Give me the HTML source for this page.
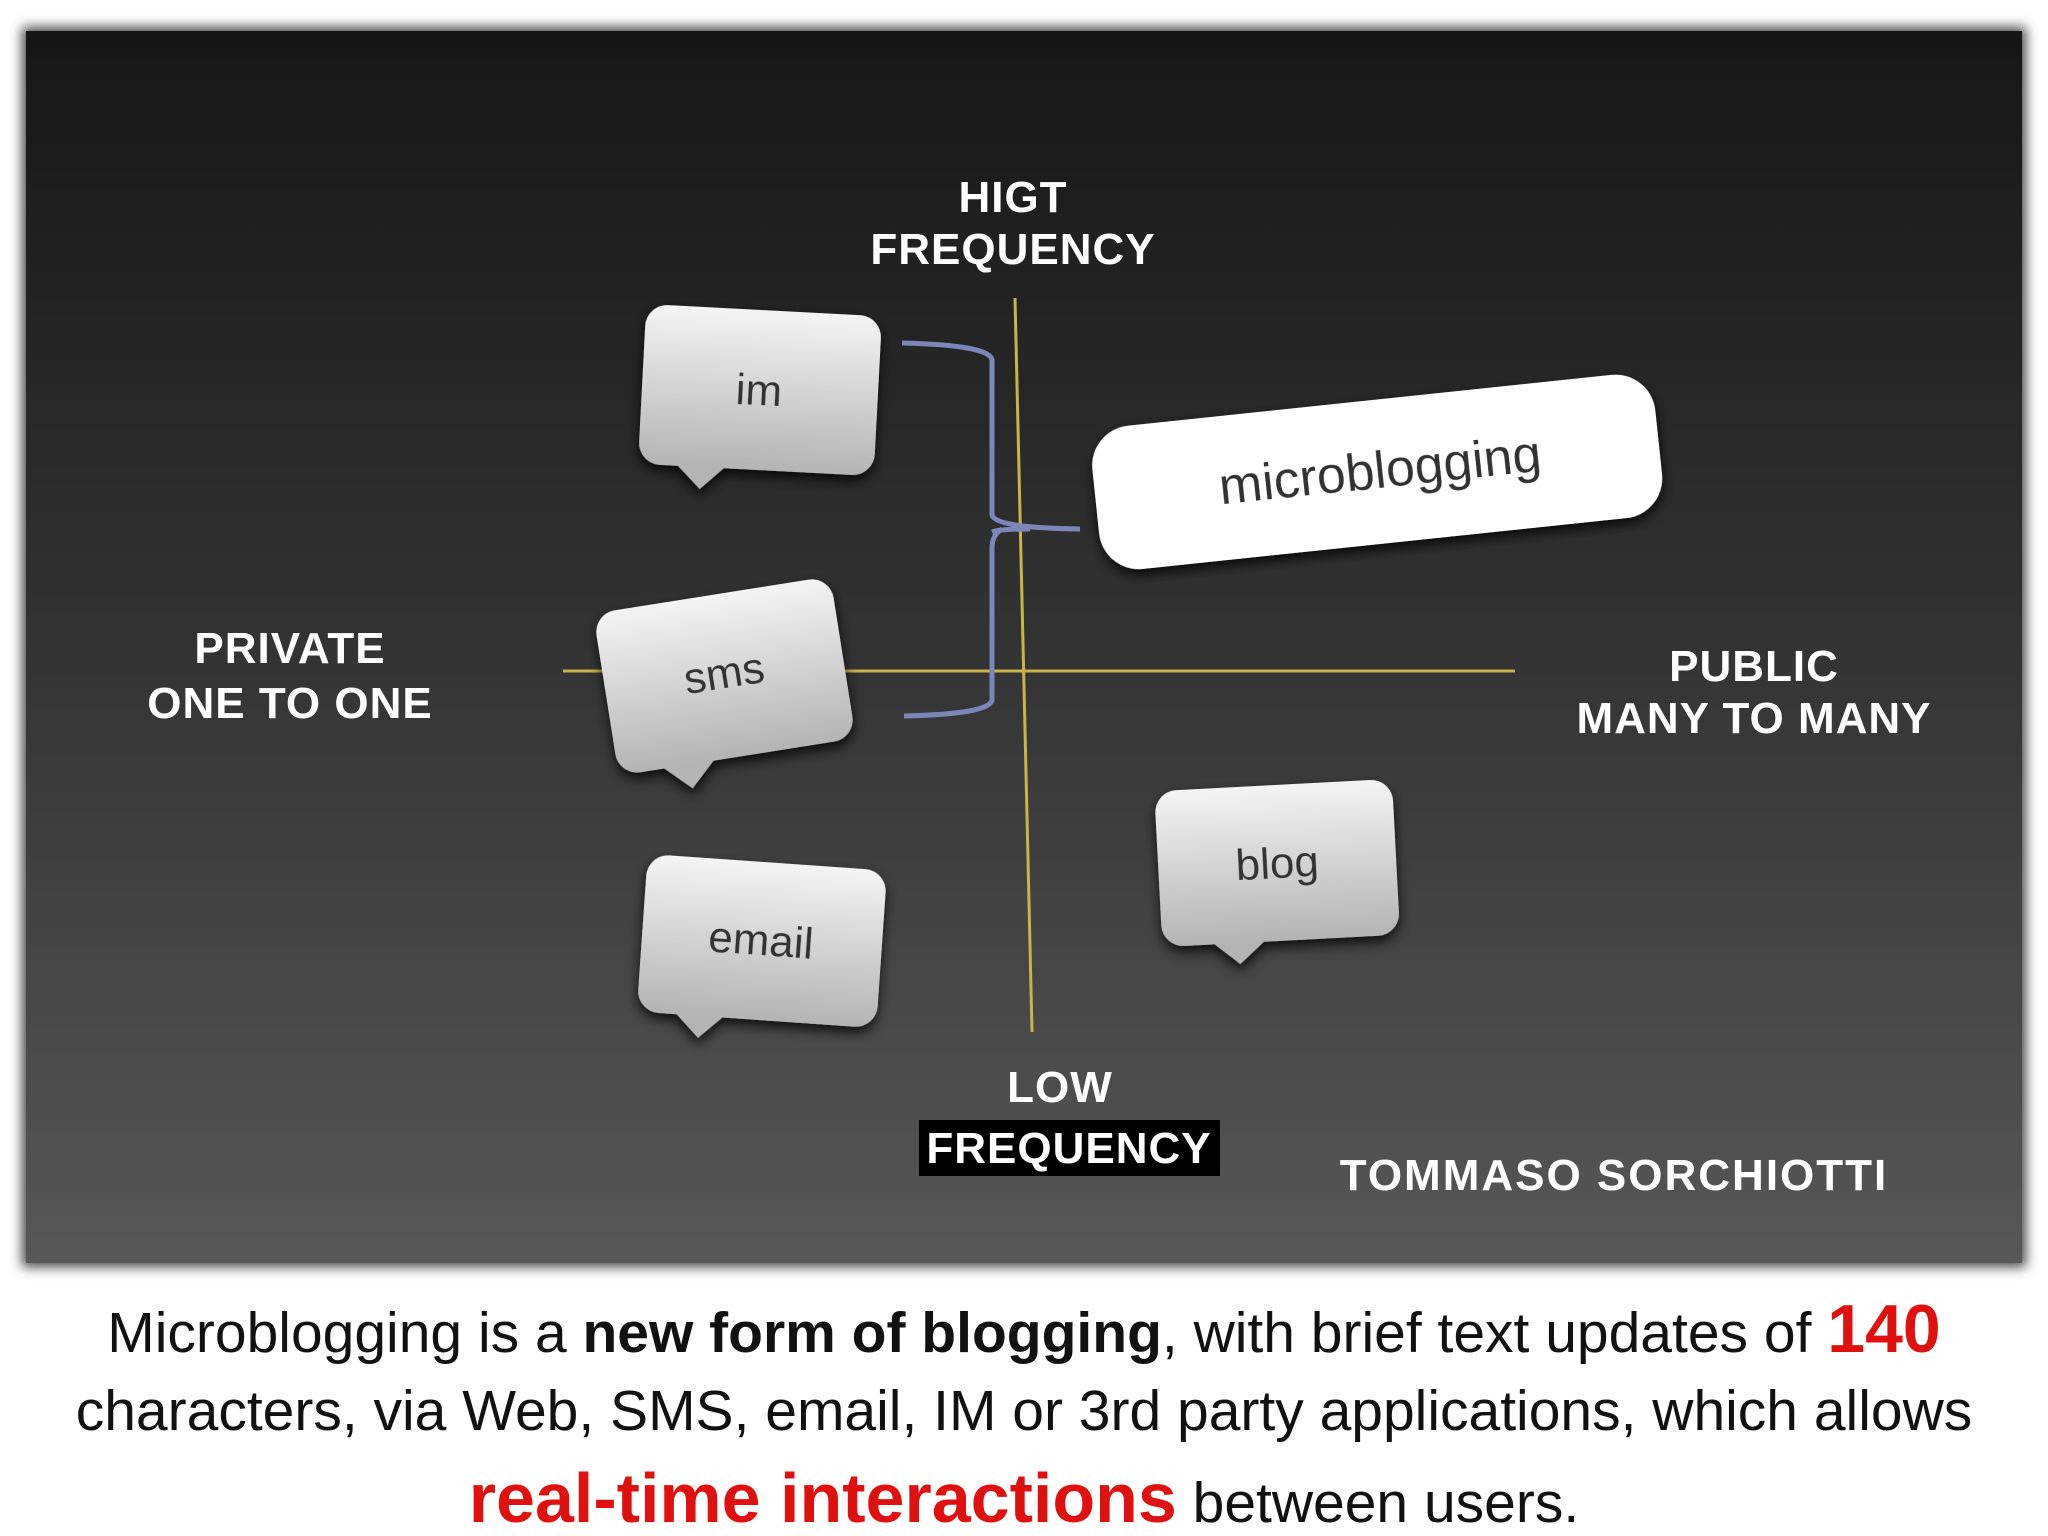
<!DOCTYPE html>
<html><head><meta charset="utf-8"><style>
html,body{margin:0;padding:0;background:#fff;width:2048px;height:1536px;overflow:hidden}
svg{display:block}
</style></head><body>
<svg width="2048" height="1536" viewBox="0 0 2048 1536" xmlns="http://www.w3.org/2000/svg">
<defs>
<linearGradient id="bg" x1="0" y1="0" x2="0" y2="1">
<stop offset="0" stop-color="#161616"/><stop offset="0.5" stop-color="#333"/><stop offset="1" stop-color="#575757"/>
</linearGradient>
<linearGradient id="bub" x1="0" y1="0" x2="0" y2="1">
<stop offset="0" stop-color="#f4f4f4"/><stop offset="1" stop-color="#b4b4b4"/>
</linearGradient>
<filter id="blur" x="-5%" y="-5%" width="110%" height="110%"><feGaussianBlur stdDeviation="6"/></filter>
<filter id="sh"><feDropShadow dx="0" dy="6" stdDeviation="6" flood-color="#000" flood-opacity="0.8"/></filter>
</defs>
<rect x="22" y="27" width="2004" height="1240" fill="#444" filter="url(#blur)"/>
<rect x="26" y="31" width="1996" height="1232" fill="url(#bg)"/>

<line x1="563" y1="671" x2="1515" y2="671" stroke="#c8b44a" stroke-width="3"/>
<line x1="1015" y1="298" x2="1032" y2="1032" stroke="#c8b44a" stroke-width="3"/>

<path d="M902 343 Q990 345 992 360 L992 515 Q995 528 1080 529 M992 532 Q1000 529 1030 529 M1002 529 Q992 535 992 548 L992 700 Q990 714 904 716" fill="none" stroke="#7d86b8" stroke-width="5"/>

<g font-family="Liberation Sans, sans-serif" fill="#fff" text-anchor="middle" font-size="44" font-weight="bold" letter-spacing="1">
<text x="1013" y="212">HIGT</text>
<text x="1013" y="264">FREQUENCY</text>
<text x="290" y="663">PRIVATE</text>
<text x="290" y="718">ONE TO ONE</text>
<text x="1754" y="681">PUBLIC</text>
<text x="1754" y="733">MANY TO MANY</text>
<text x="1060" y="1102">LOW</text>
<rect x="919" y="1120" width="301" height="56" fill="#000"/>
<text x="1069" y="1163">FREQUENCY</text>
<text x="1614" y="1190" font-size="44" letter-spacing="2">TOMMASO SORCHIOTTI</text>
</g>

<g font-family="Liberation Sans, sans-serif" font-size="44" fill="#333" text-anchor="middle">
<g transform="rotate(3 759 390)" filter="url(#sh)">
<rect x="642" y="310" width="236" height="160" rx="22" fill="url(#bub)"/>
<path d="M680 468 L705 492 L730 468Z" fill="#b4b4b4"/>
<text x="759" y="405">im</text></g>
<g transform="rotate(-9 724 673)" filter="url(#sh)">
<rect x="604" y="594" width="240" height="164" rx="22" fill="url(#bub)"/>
<path d="M648 756 L675 782 L702 756Z" fill="#b4b4b4"/>
<text x="724" y="688">sms</text></g>
<g transform="rotate(4 761 940)" filter="url(#sh)">
<rect x="642" y="862" width="240" height="158" rx="22" fill="url(#bub)"/>
<path d="M680 1018 L705 1042 L730 1018Z" fill="#b4b4b4"/>
<text x="761" y="955">email</text></g>
<g transform="rotate(-3 1277 860)" filter="url(#sh)">
<rect x="1158" y="785" width="238" height="156" rx="22" fill="url(#bub)"/>
<path d="M1208 939 L1235 962 L1262 939Z" fill="#b4b4b4"/>
<text x="1277" y="878">blog</text></g>
<g transform="rotate(-6 1376 470)" filter="url(#sh)">
<rect x="1094" y="400" width="566" height="144" rx="40" fill="#fff"/>
<text x="1380" y="488" font-size="52">microblogging</text></g>
</g>

<g font-family="Liberation Sans, sans-serif" text-anchor="middle" fill="#111">
<text x="1024" y="1352" font-size="57">Microblogging is a <tspan font-weight="bold">new form of blogging</tspan>, with brief text updates of <tspan font-weight="bold" fill="#e01010" font-size="68">140</tspan></text>
<text x="1024" y="1430" font-size="57">characters, via Web, SMS, email, IM or 3rd party applications, which allows</text>
<text x="1024" y="1522" font-size="57"><tspan font-weight="bold" fill="#e01010" font-size="70">real-time interactions</tspan> between users.</text>
</g>
</svg>
</body></html>
